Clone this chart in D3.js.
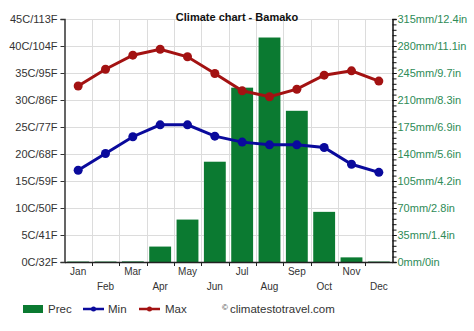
<!DOCTYPE html>
<html>
<head>
<meta charset="utf-8">
<script src="https://cdn.jsdelivr.net/npm/d3@7"></script>
<style>
  html, body { margin: 0; padding: 0; background: #fff; }
  svg { display: block; font-family: "Liberation Sans", Arial, sans-serif; }
</style>
</head>
<body>
<svg id="chart" width="474" height="331"></svg>
<script>
// Monthly climate data for Bamako
const months = ["Jan", "Feb", "Mar", "Apr", "May", "Jun", "Jul", "Aug", "Sep", "Oct", "Nov", "Dec"];
const precMm = [0.6, 0.6, 0.8, 20, 55, 130, 226, 291, 196, 65, 6, 0.6];
const minC = [17.0, 20.1, 23.2, 25.4, 25.4, 23.3, 22.2, 21.7, 21.7, 21.2, 18.1, 16.6];
const maxC = [32.6, 35.7, 38.3, 39.4, 38.0, 34.9, 31.7, 30.6, 32.0, 34.6, 35.4, 33.5];
const tempTicks = [0, 5, 10, 15, 20, 25, 30, 35, 40, 45];
const tempTickLabels = ["0C/32F", "5C/41F", "10C/50F", "15C/59F", "20C/68F", "25C/77F", "30C/86F", "35C/95F", "40C/104F", "45C/113F"];
const precTicks = [0, 35, 70, 105, 140, 175, 210, 245, 280, 315];
const precTickLabels = ["0mm/0in", "35mm/1.4in", "70mm/2.8in", "105mm/4.2in", "140mm/5.6in", "175mm/6.9in", "210mm/8.3in", "245mm/9.7in", "280mm/11.1in", "315mm/12.4in"];

const colors = { prec: "#0b7a31", min: "#0a0a9c", max: "#a31212", grid: "#dcdcdc", axis: "#333", precText: "#2e8b57" };

const svg = d3.select("#chart");
const m = { left: 64.5, right: 392.5, top: 19, bottom: 262 };

const x = d3.scaleBand().domain(months).range([m.left, m.right]).paddingInner(0).paddingOuter(0);
const yT = d3.scaleLinear().domain([0, 45]).range([m.bottom, m.top]);
const yP = d3.scaleLinear().domain([0, 315]).range([m.bottom, m.top]);

// grid
const grid = svg.append("g");
grid.selectAll("line.h").data(tempTicks.slice(1)).join("line")
  .attr("x1", m.left).attr("x2", m.right)
  .attr("y1", d => Math.round(yT(d)) + 0.5).attr("y2", d => Math.round(yT(d)) + 0.5)
  .attr("stroke", colors.grid).attr("stroke-width", 1);
grid.selectAll("line.v").data(months.slice(1)).join("line")
  .attr("x1", d => Math.round(x(d)) + 0.5).attr("x2", d => Math.round(x(d)) + 0.5)
  .attr("y1", m.top).attr("y2", m.bottom)
  .attr("stroke", colors.grid).attr("stroke-width", 1);

// precipitation bars
const barW = x.bandwidth() * 0.8;
svg.append("g").selectAll("rect").data(months).join("rect")
  .attr("x", d => x(d) + (x.bandwidth() - barW) / 2)
  .attr("width", barW)
  .attr("y", (d, i) => yP(precMm[i]))
  .attr("height", (d, i) => m.bottom - yP(precMm[i]))
  .attr("fill", colors.prec);

// left axis
const leftAxis = d3.axisLeft(yT).tickValues(tempTicks).tickFormat((d, i) => tempTickLabels[i]).tickSize(4).tickPadding(3);
const gL = svg.append("g").attr("transform", `translate(${m.left},0)`).call(leftAxis);
gL.select(".domain").attr("stroke", colors.axis).attr("stroke-width", 1.5);
gL.selectAll(".tick line").attr("stroke", colors.axis);
gL.selectAll(".tick text").attr("fill", "#333").style("font-size", "11px").style("font-family", "Liberation Sans, Arial, sans-serif");

// right axis: major labelled ticks + minor ticks
const minorTicks = d3.range(0, 316, 7);
const rightMinor = d3.axisRight(yP).tickValues(minorTicks).tickFormat("").tickSize(4);
const gRm = svg.append("g").attr("transform", `translate(${m.right},0)`).call(rightMinor);
gRm.select(".domain").attr("stroke", "#111").attr("stroke-width", 1.5);
gRm.selectAll(".tick line").attr("stroke", "#111");
const rightAxis = d3.axisRight(yP).tickValues(precTicks).tickFormat((d, i) => precTickLabels[i]).tickSize(4).tickPadding(1);
const gR = svg.append("g").attr("transform", `translate(${m.right},0)`).call(rightAxis);
gR.select(".domain").remove();
gR.selectAll(".tick line").attr("stroke", "#111");
gR.selectAll(".tick text").attr("fill", colors.precText).style("font-size", "11px").style("font-family", "Liberation Sans, Arial, sans-serif");

// bottom axis
const bottomAxis = d3.axisBottom(x).tickValues([]).tickSizeOuter(0);
const gB = svg.append("g").attr("transform", `translate(0,${m.bottom})`).call(bottomAxis);
gB.select(".domain").attr("stroke", "#222").attr("stroke-width", 1.5);
gB.selectAll("line.mt").data(months.slice(1)).join("line")
  .attr("x1", d => Math.round(x(d)) + 0.5).attr("x2", d => Math.round(x(d)) + 0.5)
  .attr("y1", 0).attr("y2", 4).attr("stroke", "#222");
gB.selectAll("text.ml").data(months).join("text")
  .attr("x", d => x(d) + x.bandwidth() / 2)
  .attr("y", (d, i) => i % 2 === 0 ? 13 : 28)
  .attr("text-anchor", "middle")
  .attr("fill", "#333").style("font-size", "10px")
  .text(d => d);

// temperature lines
const line = d3.line().x((d, i) => x(months[i]) + x.bandwidth() / 2).y(d => yT(d));
function series(vals, color) {
  const g = svg.append("g");
  g.append("path").datum(vals).attr("d", line).attr("fill", "none").attr("stroke", color).attr("stroke-width", 3);
  g.selectAll("circle").data(vals).join("circle")
    .attr("cx", (d, i) => x(months[i]) + x.bandwidth() / 2)
    .attr("cy", d => yT(d)).attr("r", 4.5).attr("fill", color);
}
series(minC, colors.min);
series(maxC, colors.max);

// title
svg.append("text").attr("x", 237).attr("y", 21).attr("text-anchor", "middle")
  .style("font-size", "11px").style("font-weight", "bold").attr("fill", "#111")
  .text("Climate chart - Bamako");

// legend
const lg = svg.append("g").attr("transform", "translate(0,309)");
lg.append("rect").attr("x", 23).attr("y", -4).attr("width", 20).attr("height", 8).attr("fill", colors.prec);
lg.append("text").attr("x", 48).attr("y", 4).style("font-size", "11.5px").attr("fill", "#333").text("Prec");
lg.append("line").attr("x1", 83).attr("x2", 104).attr("y1", 0).attr("y2", 0).attr("stroke", colors.min).attr("stroke-width", 2.5);
lg.append("circle").attr("cx", 93.5).attr("cy", 0).attr("r", 2.5).attr("fill", colors.min);
lg.append("text").attr("x", 108).attr("y", 4).style("font-size", "11.5px").attr("fill", "#333").text("Min");
lg.append("line").attr("x1", 139).attr("x2", 160).attr("y1", 0).attr("y2", 0).attr("stroke", colors.max).attr("stroke-width", 2.5);
lg.append("circle").attr("cx", 149.5).attr("cy", 0).attr("r", 2.5).attr("fill", colors.max);
lg.append("text").attr("x", 165).attr("y", 4).style("font-size", "11.5px").attr("fill", "#333").text("Max");
lg.append("text").attr("x", 222).attr("y", 1).style("font-size", "8px").attr("fill", "#333").text("©");
lg.append("text").attr("x", 230).attr("y", 4).style("font-size", "11.5px").attr("fill", "#333").text("climatestotravel.com");
</script>
</body>
</html>
